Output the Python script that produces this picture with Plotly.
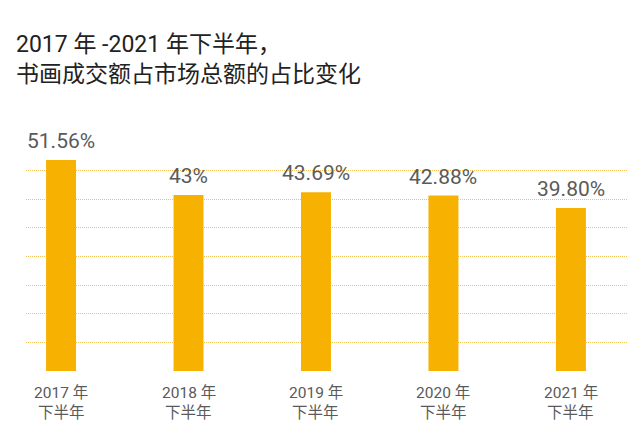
import plotly.graph_objects as go

years = ["2017 年", "2018 年", "2019 年", "2020 年", "2021 年"]
period = ["下半年", "下半年", "下半年", "下半年", "下半年"]
values = [51.56, 43.0, 43.69, 42.88, 39.80]
labels = ["51.56%", "43%", "43.69%", "42.88%", "39.80%"]

title_text = "2017 年 -2021 年下半年，<br>书画成交额占市场总额的占比变化"

FONT = "Roboto, 'Noto Sans CJK SC', sans-serif"
BAR = "#F7B100"
TXT = "#5a5a5a"

fig = go.Figure()
fig.add_trace(go.Bar(
    x=years, y=values, marker_color=BAR, marker_line_width=0,
    cliponaxis=False, hoverinfo="skip",
))

for c, v, t, p in zip(years, values, labels, period):
    fig.add_annotation(x=c, y=v, text=t, showarrow=False, yanchor="bottom",
                       yshift=5, font=dict(family=FONT, size=21, color=TXT))
    fig.add_annotation(x=c, y=0, yref="paper", text=c, showarrow=False, yanchor="middle",
                       yshift=-22, font=dict(family=FONT, size=15.5, color=TXT))
    fig.add_annotation(x=c, y=0, yref="paper", text=p, showarrow=False, yanchor="middle",
                       yshift=-42, font=dict(family=FONT, size=15.5, color=TXT))

fig.update_layout(
    width=640, height=444,
    paper_bgcolor="white", plot_bgcolor="white",
    margin=dict(l=26, r=13, t=141, b=73),
    bargap=0.765,
    showlegend=False,
    title=dict(text=title_text, x=16/640, xref="container", xanchor="left",
               y=1 - 52/444, yref="container", yanchor="top",
               font=dict(family=FONT, size=23, color="#222222")),
    font=dict(family=FONT),
)
fig.update_xaxes(range=[-0.275, 4.44], showgrid=False, zeroline=False, showline=False,
                 ticks="", showticklabels=False)
fig.update_yaxes(range=[0, 56.2], dtick=7, showticklabels=False, showgrid=True,
                 gridcolor="#F4C15A", griddash="1px,1px", gridwidth=1, zeroline=False, showline=False)

fig.write_html("out.html", post_script="document.body.style.margin='0';",
               config={"displayModeBar": False})
